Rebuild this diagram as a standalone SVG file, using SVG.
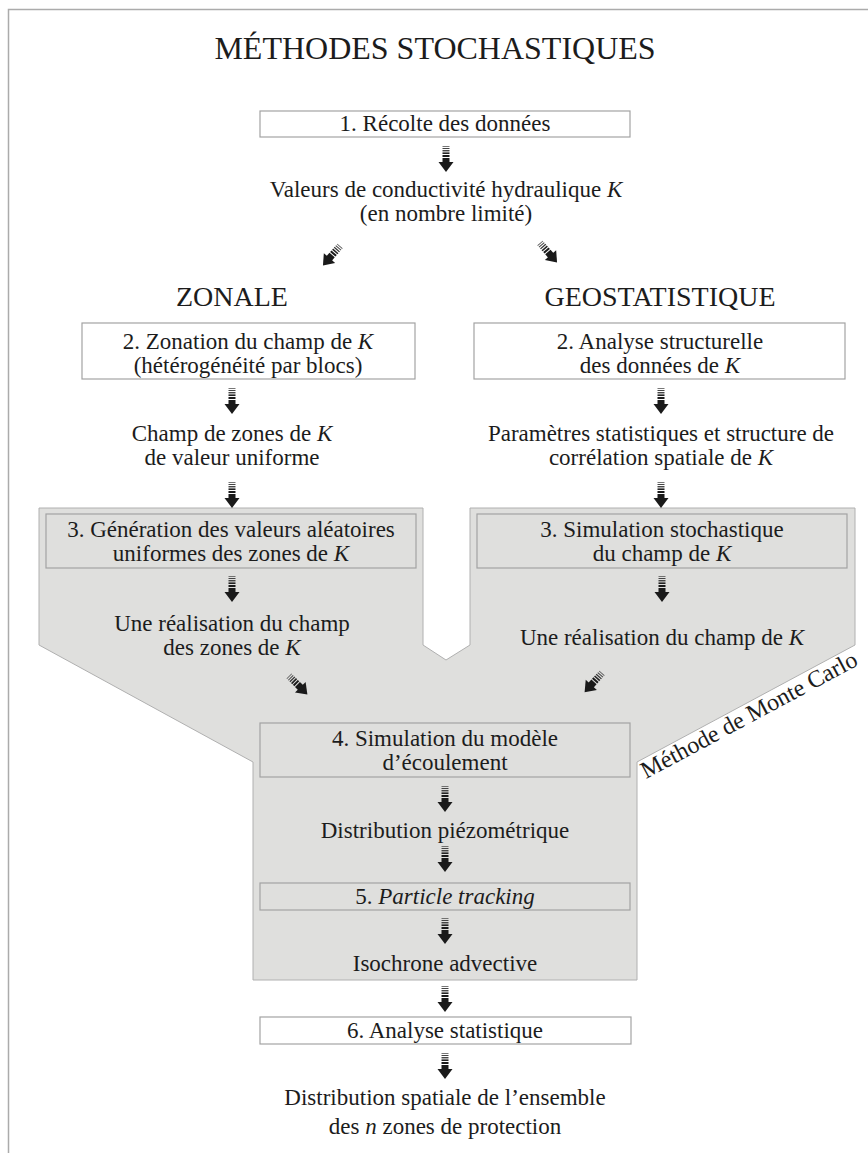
<svg xmlns="http://www.w3.org/2000/svg" xmlns:xlink="http://www.w3.org/1999/xlink" width="868" height="1153" viewBox="0 0 868 1153">
<style>
.t{font-family:"Liberation Serif","Times New Roman",serif;font-size:23px;fill:#1c1c1c;text-anchor:middle}
.h{font-family:"Liberation Serif","Times New Roman",serif;font-size:28px;fill:#1c1c1c;text-anchor:middle}
.box{fill:#ffffff;stroke:#a3a3a3;stroke-width:1.2}
.gbox{fill:#dfdfdd;stroke:#a3a3a3;stroke-width:1.2}
.i{font-style:italic}
</style>
<defs>
<g id="arr">
<rect x="-3.5" y="0" width="7" height="0.8" fill="#555"/>
<rect x="-3.5" y="2" width="7" height="1" fill="#444"/>
<rect x="-3.5" y="4.1" width="7" height="1.3" fill="#333"/>
<rect x="-3.5" y="6.4" width="7" height="1.6" fill="#222"/>
<rect x="-3.5" y="9" width="7" height="2" fill="#1a1a1a"/>
<rect x="-3.5" y="12" width="7" height="5" fill="#1a1a1a"/>
<polygon points="-7.5,16 7.5,16 0,26" fill="#1a1a1a"/>
</g>
</defs>
<rect x="0" y="0" width="868" height="1153" fill="#ffffff"/>
<path d="M8.5,1153 V9.5 H868" fill="none" stroke="#ababab" stroke-width="1.5"/>

<g id="monte-carlo-region">
<path d="M39,508 H423 V645 L446,660 L470,645 V508 H855 V645 L637,762 V980 H253 V762 L39,645 Z" fill="#dfdfdd" stroke="#b0b0b0" stroke-width="1"/>
<text class="t" style="text-anchor:start;font-size:24px" transform="translate(646,779) rotate(-28.2)">Méthode de Monte Carlo</text>
</g>

<g id="title"><text class="t" style="font-size:32px" x="435" y="59">MÉTHODES STOCHASTIQUES</text></g>

<g id="n1"><rect class="box" x="260" y="111" width="370" height="26"/><text class="t" x="445" y="131">1. Récolte des données</text></g>
<g id="n-valeurs"><text class="t" x="446" y="197">Valeurs de conductivité hydraulique <tspan class="i">K</tspan></text><text class="t" x="446" y="221">(en nombre limité)</text></g>

<g id="zonale"><text class="h" x="232" y="306">ZONALE</text></g>
<g id="geostat"><text class="h" x="660" y="306">GEOSTATISTIQUE</text></g>

<g id="n2z"><rect class="box" x="82" y="323" width="333" height="56"/><text class="t" x="248" y="349">2. Zonation du champ de <tspan class="i">K</tspan></text><text class="t" x="248" y="373">(hétérogénéité par blocs)</text></g>
<g id="n2g"><rect class="box" x="474" y="323" width="371" height="56"/><text class="t" x="660" y="349">2. Analyse structurelle</text><text class="t" x="660" y="373">des données de <tspan class="i">K</tspan></text></g>

<g id="n-champ-zones"><text class="t" x="232" y="441">Champ de zones de <tspan class="i">K</tspan></text><text class="t" x="232" y="465">de valeur uniforme</text></g>
<g id="n-parametres"><text class="t" x="661" y="441">Paramètres statistiques et structure de</text><text class="t" x="661" y="465">corrélation spatiale de <tspan class="i">K</tspan></text></g>

<g id="n3z"><rect class="gbox" x="46" y="514" width="370" height="54"/><text class="t" x="231" y="537">3. Génération des valeurs aléatoires</text><text class="t" x="231" y="561">uniformes des zones de <tspan class="i">K</tspan></text></g>
<g id="n3g"><rect class="gbox" x="477" y="514" width="370" height="54"/><text class="t" x="662" y="537">3. Simulation stochastique</text><text class="t" x="662" y="561">du champ de <tspan class="i">K</tspan></text></g>

<g id="n-real-z"><text class="t" x="232" y="631">Une réalisation du champ</text><text class="t" x="232" y="655">des zones de <tspan class="i">K</tspan></text></g>
<g id="n-real-g"><text class="t" x="662" y="645">Une réalisation du champ de <tspan class="i">K</tspan></text></g>

<g id="n4"><rect class="gbox" x="260" y="723" width="370" height="54"/><text class="t" x="445" y="746">4. Simulation du modèle</text><text class="t" x="445" y="770">d’écoulement</text></g>
<g id="n-piezo"><text class="t" x="445" y="838">Distribution piézométrique</text></g>
<g id="n5"><rect class="gbox" x="260" y="883" width="370" height="27"/><text class="t" x="445" y="904">5. <tspan class="i">Particle tracking</tspan></text></g>
<g id="n-iso"><text class="t" x="445" y="971">Isochrone advective</text></g>
<g id="n6"><rect class="box" x="260" y="1017" width="371" height="27"/><text class="t" x="445" y="1038">6. Analyse statistique</text></g>
<g id="n-final"><text class="t" x="445" y="1105">Distribution spatiale de l’ensemble</text><text class="t" x="445" y="1134">des <tspan class="i">n</tspan> zones de protection</text></g>

<g id="connectors">
<use xlink:href="#arr" transform="translate(446,146)"/>
<use xlink:href="#arr" transform="translate(340,246) rotate(41)"/>
<use xlink:href="#arr" transform="translate(540,243) rotate(-41)"/>
<use xlink:href="#arr" transform="translate(232,388)"/>
<use xlink:href="#arr" transform="translate(661,388)"/>
<use xlink:href="#arr" transform="translate(232,482)"/>
<use xlink:href="#arr" transform="translate(661,482)"/>
<use xlink:href="#arr" transform="translate(232,576)"/>
<use xlink:href="#arr" transform="translate(662,576)"/>
<use xlink:href="#arr" transform="translate(289,676) rotate(-45)"/>
<use xlink:href="#arr" transform="translate(602,673) rotate(42)"/>
<use xlink:href="#arr" transform="translate(445,786)"/>
<use xlink:href="#arr" transform="translate(445,846)"/>
<use xlink:href="#arr" transform="translate(445,918)"/>
<use xlink:href="#arr" transform="translate(445,986)"/>
<use xlink:href="#arr" transform="translate(445,1053)"/>
</g>
</svg>
